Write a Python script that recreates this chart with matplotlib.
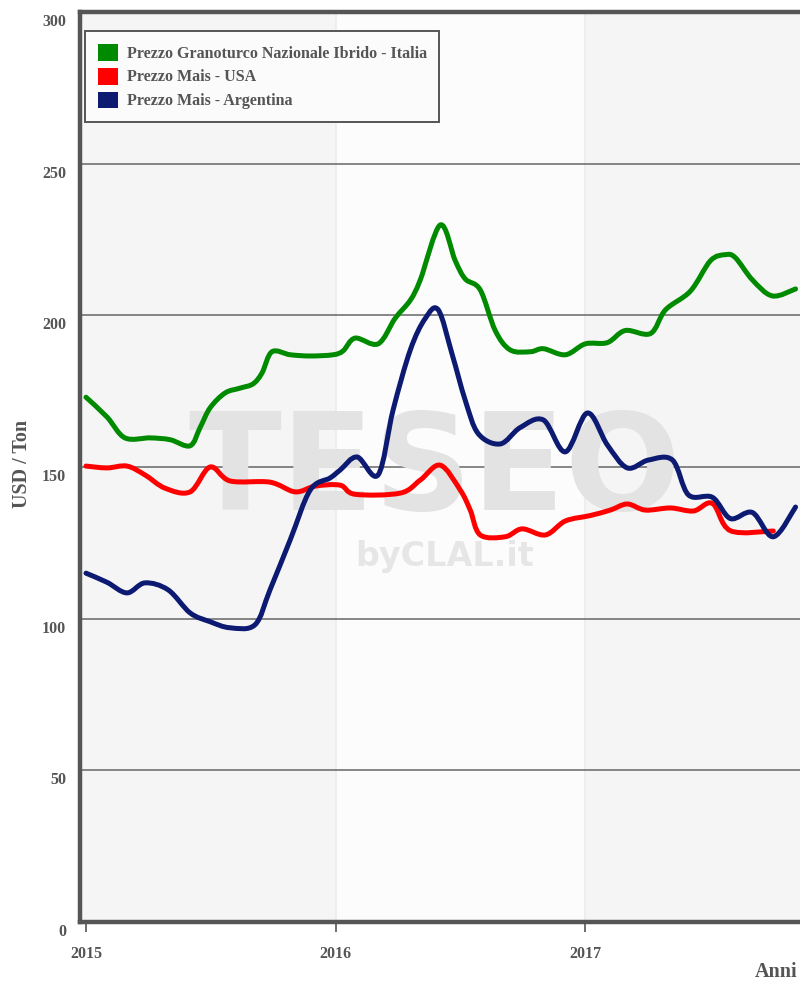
import matplotlib
matplotlib.use("Agg")
import matplotlib.pyplot as plt
import matplotlib.transforms as mtransforms
from matplotlib.patches import Patch, PathPatch
from matplotlib.path import Path

# decimal years
italia_t = [2015.000, 2015.084, 2015.156, 2015.257, 2015.337, 2015.417, 2015.457, 2015.497,
            2015.557, 2015.617, 2015.669, 2015.705, 2015.745, 2015.818, 2015.898, 2015.990,
            2016.030, 2016.078, 2016.170, 2016.238, 2016.299, 2016.339, 2016.419, 2016.479,
            2016.519, 2016.579, 2016.639, 2016.699, 2016.780, 2016.832, 2016.920, 2017.000,
            2017.088, 2017.160, 2017.261, 2017.321, 2017.421, 2017.501, 2017.561, 2017.601,
            2017.669, 2017.749, 2017.842]
italia = [173.0, 166.5, 159.6, 159.6, 159.0, 157.0, 163.0, 169.5,
          174.4, 176.0, 177.4, 181.0, 188.0, 187.0, 186.6, 187.0,
          188.3, 192.5, 190.6, 199.0, 205.0, 211.7, 229.8, 218.0,
          212.0, 208.4, 195.0, 188.6, 188.0, 189.0, 187.0, 190.6,
          191.0, 195.0, 194.0, 201.8, 208.0, 218.0, 220.0, 219.0,
          211.7, 206.4, 208.7]

usa_t = [2015.000, 2015.084, 2015.164, 2015.236, 2015.317, 2015.417, 2015.497, 2015.577,
         2015.737, 2015.838, 2015.918, 2016.018, 2016.078, 2016.259, 2016.339, 2016.419,
         2016.499, 2016.539, 2016.579, 2016.679, 2016.747, 2016.840, 2016.920, 2017.020,
         2017.100, 2017.168, 2017.240, 2017.341, 2017.433, 2017.509, 2017.581, 2017.753]
usa = [150.3, 149.7, 150.3, 147.4, 143.0, 141.8, 150.0, 145.4,
       145.0, 141.8, 143.7, 144.0, 141.0, 141.4, 145.7, 150.6,
       142.4, 135.8, 127.6, 127.0, 129.6, 127.6, 132.2, 134.0,
       135.8, 137.8, 135.8, 136.5, 135.5, 138.0, 129.0, 128.9]

argentina_t = [2015.000, 2015.084, 2015.164, 2015.236, 2015.329, 2015.417, 2015.497, 2015.577,
               2015.677, 2015.737, 2015.818, 2015.898, 2015.978, 2016.018, 2016.086, 2016.170,
               2016.230, 2016.299, 2016.359, 2016.411, 2016.467, 2016.519, 2016.571, 2016.659,
               2016.739, 2016.832, 2016.920, 2017.008, 2017.088, 2017.168, 2017.253, 2017.349,
               2017.413, 2017.509, 2017.581, 2017.669, 2017.753, 2017.842]
argentina = [115.0, 112.0, 108.5, 111.8, 109.5, 101.9, 99.0, 97.0,
             98.0, 109.5, 126.0, 142.4, 146.4, 149.0, 153.3, 147.4,
             168.8, 188.6, 199.0, 201.8, 187.0, 172.0, 161.0, 157.6,
             163.0, 165.5, 155.0, 167.8, 157.3, 149.7, 152.3, 152.3,
             140.8, 140.0, 133.0, 135.0, 127.0, 136.8]

series_names = ["Prezzo Granoturco Nazionale Ibrido - Italia",
                "Prezzo Mais - USA",
                "Prezzo Mais - Argentina"]
series_colors = ["#008a00", "#ff0000", "#0c1a72"]

years = [2015, 2016, 2017]
yticks = [0, 50, 100, 150, 200, 250, 300]

txt = "#555555"
serif = ["Liberation Serif", "DejaVu Serif"]


def spline_path(xs, ys):
    # smooth curve through the points (cubic bezier, catmull-rom style)
    n = len(xs)
    verts = [(xs[0], ys[0])]
    codes = [Path.MOVETO]
    for i in range(n - 1):
        a, b = max(i - 1, 0), min(i + 2, n - 1)
        c1 = (xs[i] + (xs[i + 1] - xs[a]) / 6, ys[i] + (ys[i + 1] - ys[a]) / 6)
        c2 = (xs[i + 1] - (xs[b] - xs[i]) / 6, ys[i + 1] - (ys[b] - ys[i]) / 6)
        verts += [c1, c2, (xs[i + 1], ys[i + 1])]
        codes += [Path.CURVE4] * 3
    return Path(verts, codes)


fig = plt.figure(figsize=(8, 9.82), dpi=100)
ax = fig.add_axes([80 / 800, 60 / 982, 755 / 800, 910 / 982])
ax.set_xlim(2014.976, 2018.0)
ax.set_ylim(0, 300)

# alternating year bands
ax.axvspan(2014.976, 2016, color="#f5f5f5", zorder=0)
ax.axvspan(2016, 2017, color="#fcfcfc", zorder=0)
ax.axvspan(2017, 2018, color="#f5f5f5", zorder=0)
for yr in years[1:]:
    ax.axvline(yr, color="#ececec", lw=1.2, zorder=0.5)

for v in yticks[1:-1]:
    ax.axhline(v, color="#666666", lw=1.1, zorder=1)

# watermark
ax.text((435 - 80) / 755, (922 - 510) / 910, "TESEO", transform=ax.transAxes,
        ha="center", va="baseline", fontsize=98, fontweight="bold",
        family="DejaVu Sans", color="#e3e3e3", zorder=1.5)
ax.text((445 - 80) / 755, (922 - 540) / 910, "byCLAL.it", transform=ax.transAxes,
        ha="center", va="top", fontsize=24, fontweight="bold",
        family="DejaVu Sans", color="#e6e6e6", zorder=1.5)

for t, v, c in zip([italia_t, usa_t, argentina_t], [italia, usa, argentina], series_colors):
    ax.add_patch(PathPatch(spline_path(t, v), facecolor="none", edgecolor=c, lw=3.6,
                           capstyle="round", joinstyle="round", zorder=3))

for side in ["left", "top", "bottom", "right"]:
    ax.spines[side].set_color("#555555")
    ax.spines[side].set_linewidth(3.2)

ax.set_xticks(years)
ax.set_xticklabels([str(y) for y in years])
ax.set_yticks(yticks)
ax.set_yticklabels([str(v) for v in yticks])
ax.tick_params(axis="x", direction="out", length=7, width=1.2, color="#555555",
               pad=10, labelsize=11.5, labelcolor=txt)
ax.tick_params(axis="y", length=0, pad=10, labelsize=11.5, labelcolor=txt)
for lab in ax.get_xticklabels() + ax.get_yticklabels():
    lab.set_fontfamily(serif)
    lab.set_fontweight("bold")
offset = mtransforms.ScaledTranslation(0, -8 / 100, fig.dpi_scale_trans)
for lab in ax.get_yticklabels():
    lab.set_transform(lab.get_transform() + offset)

fig.text(22 / 800, 1 - 464 / 982, "USD / Ton", rotation=90, ha="center", va="center",
         fontsize=14.5, fontweight="bold", family=serif, color=txt)
fig.text(755 / 800, 1 - 972 / 982, "Anni", ha="left", va="center",
         fontsize=14.5, fontweight="bold", family=serif, color=txt)

handles = [Patch(facecolor=c, edgecolor="none") for c in series_colors]
leg = ax.legend(handles, series_names, loc="upper left",
                bbox_to_anchor=(5 / 755, 1 - 19 / 910), borderaxespad=0,
                frameon=True, fancybox=False, handlelength=1.25, handleheight=1.25,
                handletextpad=0.55, labelspacing=0.38, borderpad=0.8,
                prop={"family": serif, "weight": "bold", "size": 11.5})
leg.get_frame().set_edgecolor("#555555")
leg.get_frame().set_linewidth(1.4)
leg.get_frame().set_facecolor("#fbfbfb")
leg.get_frame().set_alpha(1)
for t in leg.get_texts():
    t.set_color(txt)
leg.set_zorder(5)

fig.savefig("out.png", dpi=100)
